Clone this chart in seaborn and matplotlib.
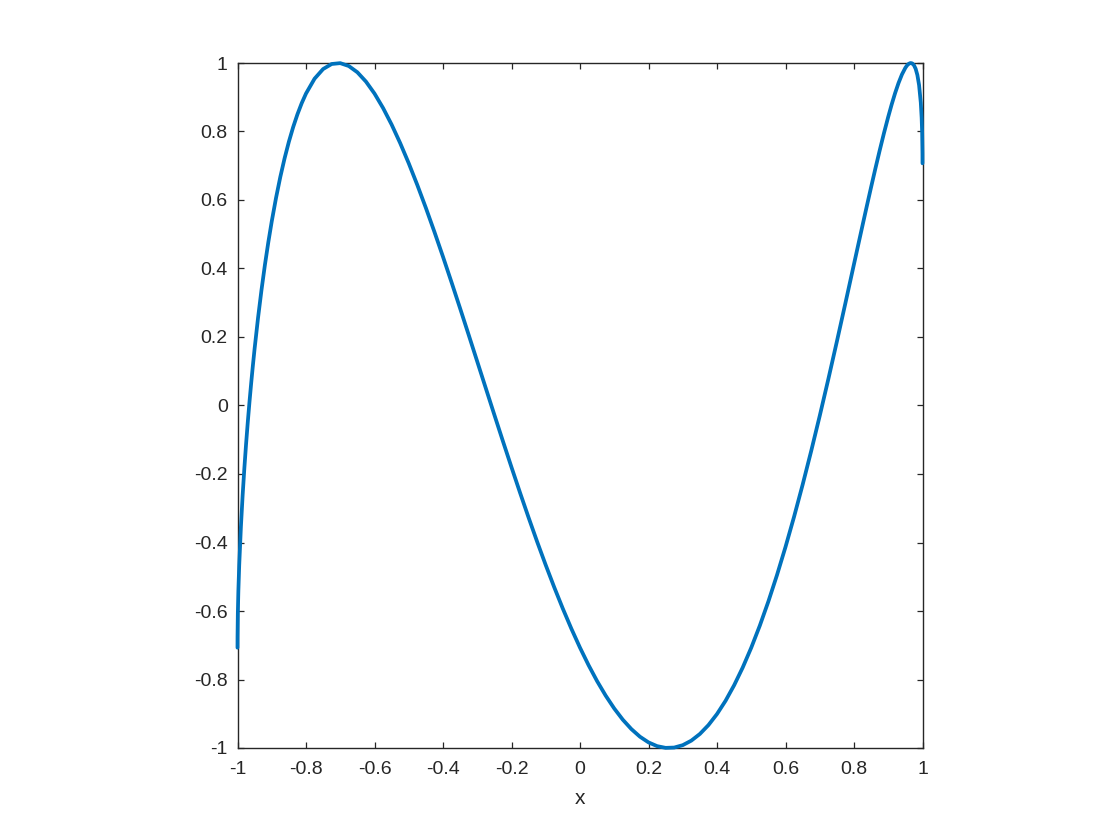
import matplotlib
matplotlib.use("Agg")
import matplotlib.pyplot as plt
import seaborn as sns
import pandas as pd

x_vals = [-1.0, -0.9999, -0.999, -0.9975, -0.995, -0.99, -0.985, -0.98, -0.975, -0.97,
          -0.965, -0.96, -0.955, -0.95, -0.94, -0.93, -0.92, -0.91, -0.9, -0.8875,
          -0.875, -0.8625, -0.85, -0.8375, -0.825, -0.8125, -0.8, -0.775, -0.75, -0.725,
          -0.7, -0.675, -0.65, -0.625, -0.6, -0.575, -0.55, -0.525, -0.5, -0.475,
          -0.45, -0.425, -0.4, -0.375, -0.35, -0.325, -0.3, -0.275, -0.25, -0.225,
          -0.2, -0.175, -0.15, -0.125, -0.1, -0.075, -0.05, -0.025, 0.0, 0.025,
          0.05, 0.075, 0.1, 0.125, 0.15, 0.175, 0.2, 0.225, 0.25, 0.275,
          0.3, 0.325, 0.35, 0.375, 0.4, 0.425, 0.45, 0.475, 0.5, 0.525,
          0.55, 0.575, 0.6, 0.625, 0.65, 0.675, 0.7, 0.725, 0.75, 0.775,
          0.8, 0.8125, 0.825, 0.8375, 0.85, 0.8625, 0.875, 0.8875, 0.9, 0.91,
          0.92, 0.93, 0.94, 0.95, 0.955, 0.96, 0.965, 0.97, 0.975, 0.98,
          0.985, 0.99, 0.995, 0.9975, 0.999, 0.9999, 1.0]
y_vals = [-0.7071, -0.6765, -0.6062, -0.5423, -0.4665, -0.3530, -0.2620, -0.1833, -0.1129, -0.0487,
          0.0107, 0.0659, 0.1177, 0.1665, 0.2562, 0.3370, 0.4103, 0.4769, 0.5377, 0.6062,
          0.6674, 0.7218, 0.7701, 0.8128, 0.8502, 0.8828, 0.9108, 0.9542, 0.9824, 0.9971,
          0.9996, 0.9911, 0.9729, 0.9458, 0.9108, 0.8686, 0.8202, 0.7661, 0.7071, 0.6438,
          0.5769, 0.5068, 0.4342, 0.3595, 0.2834, 0.2061, 0.1283, 0.0503, -0.0274, -0.1044,
          -0.1803, -0.2548, -0.3275, -0.3981, -0.4661, -0.5313, -0.5934, -0.6521, -0.7071, -0.7581,
          -0.8049, -0.8471, -0.8847, -0.9174, -0.9448, -0.9670, -0.9836, -0.9945, -0.9996, -0.9987,
          -0.9917, -0.9785, -0.9590, -0.9331, -0.9008, -0.8621, -0.8168, -0.7652, -0.7071, -0.6427,
          -0.5721, -0.4955, -0.4130, -0.3248, -0.2313, -0.1329, -0.0300, 0.0768, 0.1869, 0.2993,
          0.4130, 0.4698, 0.5264, 0.5826, 0.6379, 0.6921, 0.7447, 0.7953, 0.8431, 0.8790,
          0.9120, 0.9415, 0.9666, 0.9860, 0.9931, 0.9978, 1.0000, 0.9988, 0.9936, 0.9831,
          0.9651, 0.9356, 0.8845, 0.8402, 0.7954, 0.7365, 0.7071]
x_ticks = [-1, -0.8, -0.6, -0.4, -0.2, 0, 0.2, 0.4, 0.6, 0.8, 1]
y_ticks = [-1, -0.8, -0.6, -0.4, -0.2, 0, 0.2, 0.4, 0.6, 0.8, 1]
x_label = "x"


def fmt(v):
    if v == int(v):
        return str(int(v))
    return f"{v:g}"


sns.set_style("white")
plt.rcParams['font.family'] = ['Liberation Sans', 'DejaVu Sans']

df = pd.DataFrame({"x": x_vals, "y": y_vals})

fig = plt.figure(figsize=(11.2, 8.4), dpi=100)
ax = fig.add_axes([237.5 / 1120, 1 - 748 / 840, (922.5 - 237.5) / 1120, (748 - 63) / 840])
sns.lineplot(data=df, x="x", y="y", ax=ax, color="#0072BD", linewidth=2.7, sort=False)
for ln in ax.lines:
    ln.set_clip_on(False)
    ln.set_solid_joinstyle("round")
    ln.set_zorder(3)

ax.set_xlim(-1, 1)
ax.set_ylim(-1, 1)
ax.set_xticks(x_ticks)
ax.set_yticks(y_ticks)
ax.set_xticklabels([fmt(v) for v in x_ticks])
ax.set_yticklabels([fmt(v) for v in y_ticks])
ax.set_xlabel(x_label, fontsize=15, color="#262626", labelpad=8)
ax.set_ylabel("")

for s in ax.spines.values():
    s.set_visible(True)
    s.set_color("#262626")
    s.set_linewidth(1.0)

ax.tick_params(axis="both", which="both", direction="in", length=4.5, width=0.9,
               colors="#262626", labelsize=14, top=True, right=True,
               bottom=True, left=True)
ax.tick_params(axis="x", pad=9)
ax.tick_params(axis="y", pad=7)

fig.savefig("out.png", dpi=100, facecolor="white")
